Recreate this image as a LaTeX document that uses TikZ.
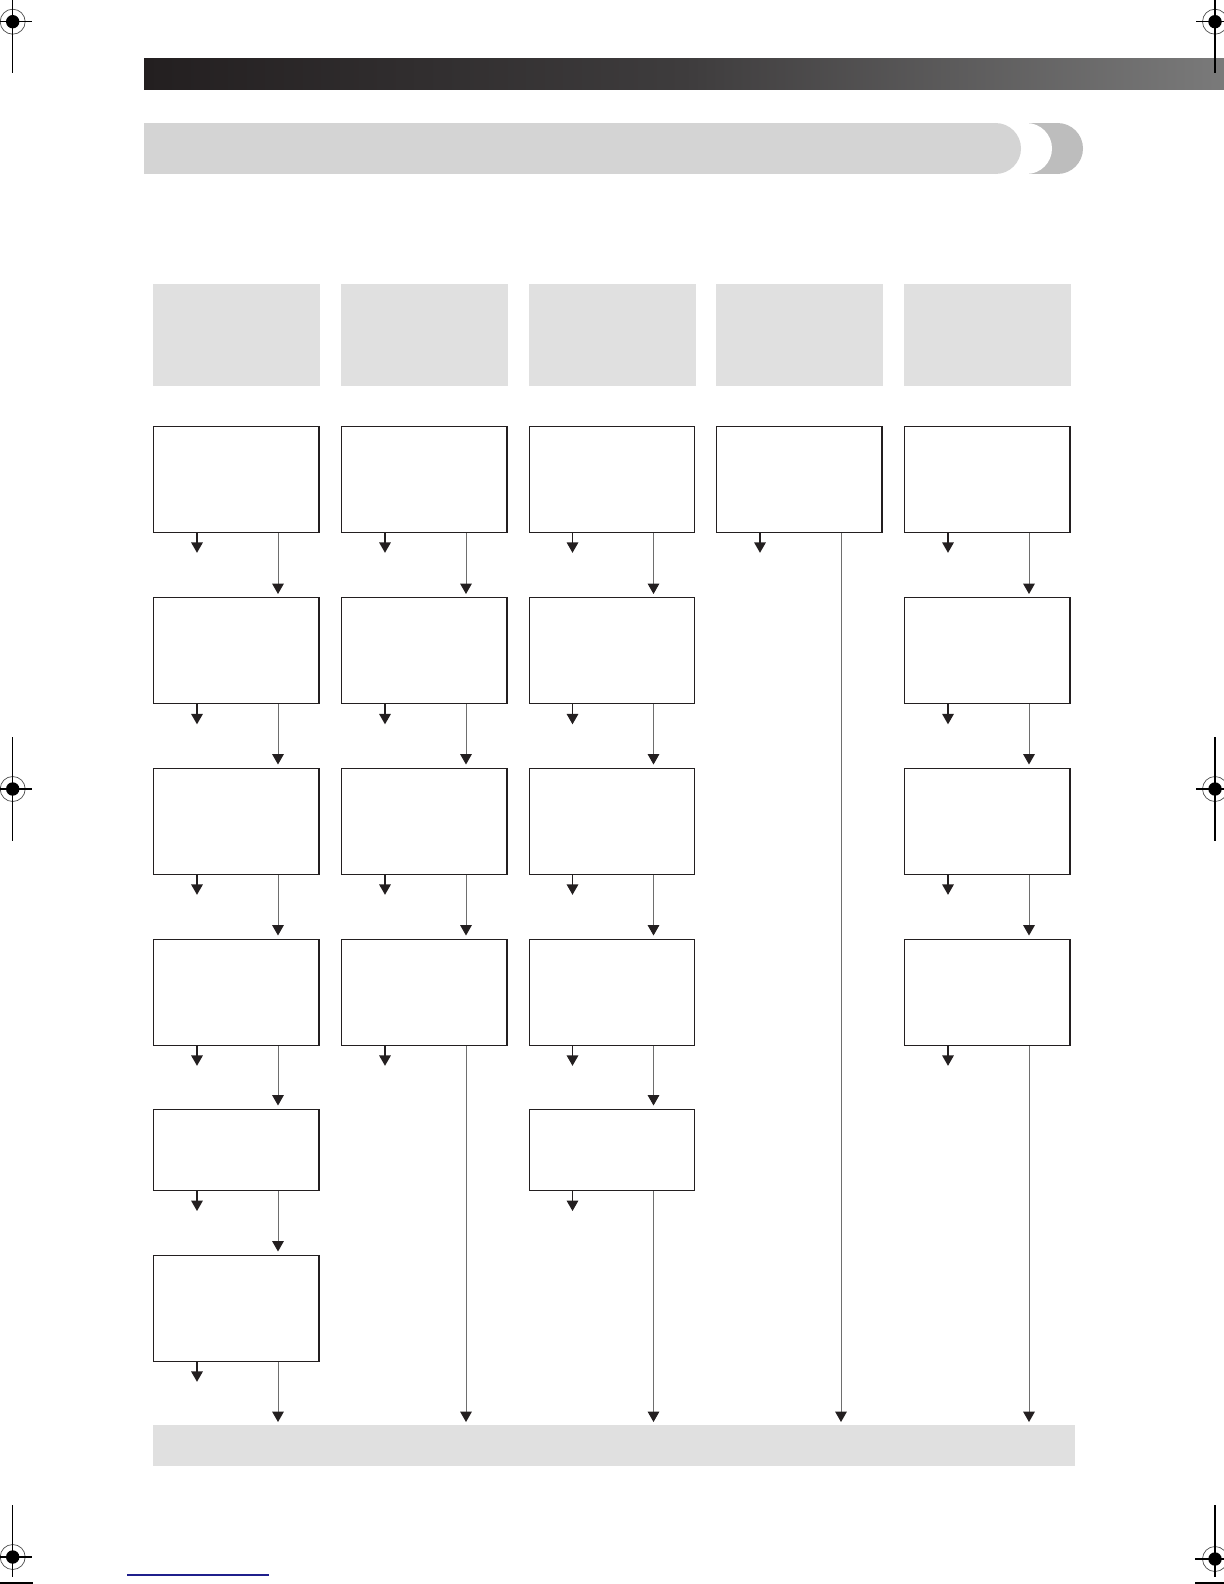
\documentclass[tikz,border=0pt]{standalone}
\usetikzlibrary{arrows.meta,calc}
\definecolor{boxline}{HTML}{231F20}
\definecolor{hdrgray}{HTML}{E0E0E0}
\definecolor{titlelight}{HTML}{D4D4D4}
\definecolor{titledark}{HTML}{BDBDBD}
\definecolor{linkgray}{HTML}{6E6E6E}
\definecolor{bardark}{HTML}{231F20}
\definecolor{barmid}{HTML}{3E3C3D}
\definecolor{barlight}{HTML}{7A7A7A}
\definecolor{navyline}{HTML}{1F1F8C}
\begin{document}
\begin{tikzpicture}[x=0.5pt,y=-0.5pt,
  stepbox/.style={draw=boxline,line width=0.65pt,fill=white,minimum width=82.6pt,minimum height=53pt,inner sep=0pt,anchor=north west},
  shortbox/.style={stepbox,minimum height=40.6pt},
  headbox/.style={fill=hdrgray,minimum width=83.5pt,minimum height=51pt,inner sep=0pt,anchor=north west},
  smallarr/.style={draw=boxline,line width=0.6pt,-{Triangle[width=5.8pt,length=5.2pt,color=boxline]}},
  longarr/.style={draw=linkgray,line width=0.5pt,-{Triangle[width=5.8pt,length=5.2pt,color=boxline]}},
  cropring/.style={draw=black!70,line width=0.35pt},
  cropline/.style={draw=black,line width=0.6pt}]
\useasboundingbox (0,0) rectangle (1224,1584);

% header gradient bar
\shade[left color=bardark,right color=barlight,middle color=barmid] (144,59) rectangle (1224,89.5);

% title bar
\fill[titledark] (1000,123) rectangle (1057.5,174);
\fill[titledark] (1057.5,148.5) circle (12.75pt);
\fill[white] (990,123) rectangle (1026.5,174);
\fill[white] (1026.5,148.5) circle (12.75pt);
\fill[titlelight] (144,123) rectangle (995.5,174);
\fill[titlelight] (995.5,148.5) circle (12.75pt);

% column headers
\node[headbox] (h1) at (153,284) {};
\node[headbox] (h2) at (341,284) {};
\node[headbox] (h3) at (528.5,284) {};
\node[headbox] (h4) at (716,284) {};
\node[headbox] (h5) at (904,284) {};

% boxes column 1
\node[stepbox] (b11) at (153,425.5) {};
\node[stepbox] (b12) at (153,597) {};
\node[stepbox] (b13) at (153,767.5) {};
\node[stepbox] (b14) at (153,938.5) {};
\node[shortbox] (b15) at (153,1108.5) {};
\node[stepbox] (b16) at (153,1254.5) {};
% column 2
\node[stepbox] (b21) at (341,425.5) {};
\node[stepbox] (b22) at (341,597) {};
\node[stepbox] (b23) at (341,767.5) {};
\node[stepbox] (b24) at (341,938.5) {};
% column 3
\node[stepbox] (b31) at (528.5,425.5) {};
\node[stepbox] (b32) at (528.5,597) {};
\node[stepbox] (b33) at (528.5,767.5) {};
\node[stepbox] (b34) at (528.5,938.5) {};
\node[shortbox] (b35) at (528.5,1108.5) {};
% column 4
\node[stepbox] (b41) at (716,425.5) {};
% column 5
\node[stepbox] (b51) at (904,425.5) {};
\node[stepbox] (b52) at (904,597) {};
\node[stepbox] (b53) at (904,767.5) {};
\node[stepbox] (b54) at (904,938.5) {};

% bottom bar
\node[fill=hdrgray,minimum width=461pt,minimum height=20.5pt,inner sep=0pt,anchor=north west] (bar) at (153,1425) {};

% small arrows
\foreach \b in {b11,b12,b13,b14,b15,b16,b21,b22,b23,b24,b31,b32,b33,b34,b35,b41,b51,b52,b53,b54}
  \draw[smallarr] ([xshift=22pt]\b.south west) -- ++(0,20);

% long arrows between boxes
\foreach \a/\b in {b11/b12,b12/b13,b13/b14,b14/b15,b15/b16,b21/b22,b22/b23,b23/b24,b31/b32,b32/b33,b33/b34,b34/b35,b51/b52,b52/b53,b53/b54}
  \draw[longarr] ([xshift=62.5pt]\a.south west) -- ([xshift=62.5pt,yshift=1.5pt]\b.north west);

% long arrows to the bottom bar
\foreach \a in {b16,b24,b35,b41,b54}
  \draw[longarr] ([xshift=62.5pt]\a.south west) coordinate (s) -- ($(s |- bar.north)+(0,-3)$);

% crop marks
\foreach \cx/\cy/\ya/\yb/\xa/\xb in {12.7/21.7/0/73/0/32, 1215/21.7/0/73/1196/1224, 12.7/789/737/841/0/32, 1215/789/737/841/1196/1224, 12.7/1557/1505/1577/0/32, 1215/1559/1505/1577/1195/1224} {
  \draw[cropring] (\cx,\cy) circle (6.25pt);
  \fill[black] (\cx,\cy) circle (3.35pt);
  \draw[cropline] (\cx,\ya) -- (\cx,\yb);
  \draw[cropline] (\xa,\cy) -- (\xb,\cy);
}
\draw[cropline] (0,1583) -- (33,1583);
\draw[cropline] (1195,1583) -- (1224,1583);
\draw[navyline,line width=0.6pt] (127,1575) -- (269,1575);
\end{tikzpicture}
\end{document}
